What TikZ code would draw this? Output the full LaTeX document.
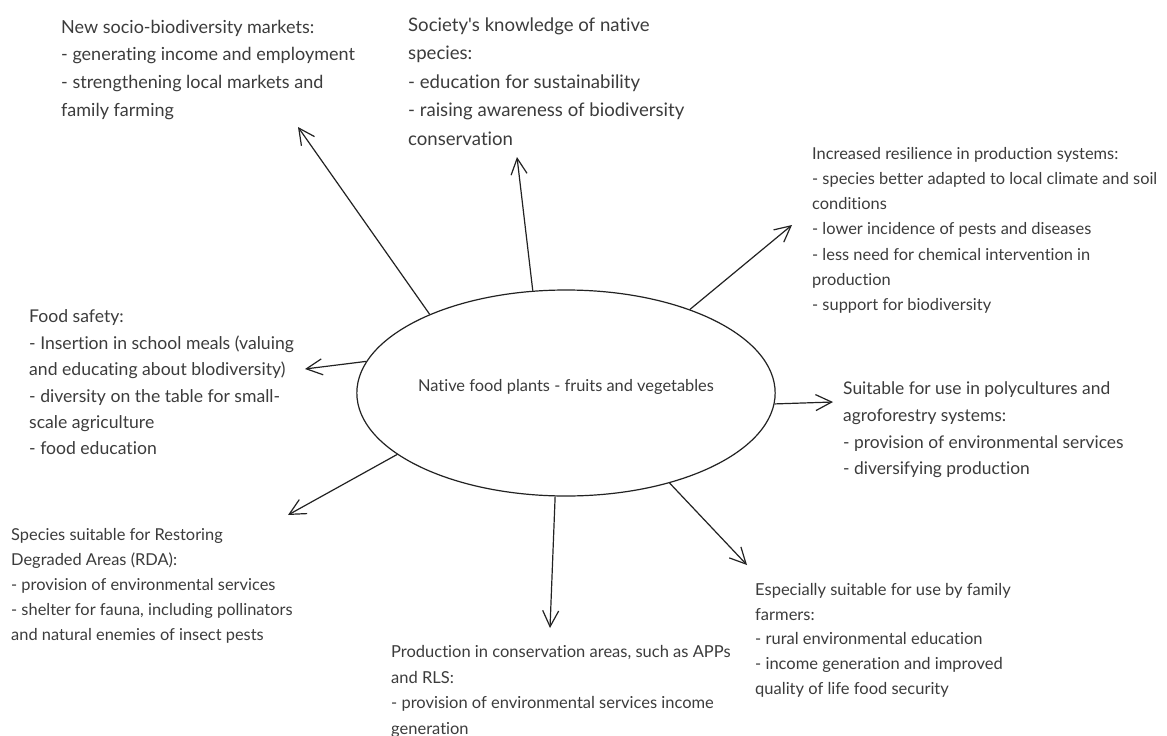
\documentclass[tikz,border=0pt]{standalone}
\usepackage{fontspec}
\setmainfont{Lato}[Ligatures={NoCommon,NoContextual}]
\usetikzlibrary{arrows.meta,shapes.geometric}
\definecolor{txtc}{HTML}{3C3C3C}
\definecolor{linec}{HTML}{222222}
\begin{document}
\begin{tikzpicture}[x=1pt,y=1pt,
  txt/.style={anchor=north west, inner sep=0pt, align=left, text=txtc},
  arr/.style={draw=linec, line width=1.2pt, -{Straight Barb[length=16pt,width=16pt,line width=1.2pt]}}]
\useasboundingbox (0,0) rectangle (1167,-736);
\fill[white] (0,0) rectangle (1167,-736);
% centre
\node[draw=linec, line width=1.2pt, ellipse, minimum width=336pt, minimum height=206pt, inner sep=0pt, text=txtc, font=\fontsize{16.4}{19}\selectfont] (c) at (566,-393) {\smash{\raisebox{2pt}{Native food plants - fruits and vegetables}}};
% text blocks
\node[txt, font=\fontsize{18}{27.7}\selectfont] (b1) at (61,-19.6) {New socio-biodiversity markets:\\- generating income and employment\\- strengthening local markets and\\family farming};
\node[txt, font=\fontsize{18.6}{28.5}\selectfont] (b2) at (408,-17.4) {Society\textquotesingle s knowledge of native\\species:\\- education for sustainability\\- raising awareness of biodiversity\\conservation};
\node[txt, font=\fontsize{16.4}{25.2}\selectfont] (b3) at (812,-147) {Increased resilience in production systems:\\- species better adapted to local climate and soil\\conditions\\- lower incidence of pests and diseases\\- less need for chemical intervention in\\production\\- support for biodiversity};
\node[txt, font=\fontsize{17.6}{26.4}\selectfont] (b4) at (29,-309.7) {Food safety:\\- Insertion in school meals (valuing\\and educating about blodiversity)\\- diversity on the table for small-\\scale agriculture\\- food education};
\node[txt, font=\fontsize{17.4}{26.7}\selectfont] (b5) at (843,-381.8) {Suitable for use in polycultures and\\agroforestry systems:\\- provision of environmental services\\- diversifying production};
\node[txt, font=\fontsize{16.4}{25}\selectfont] (b6) at (11,-528) {Species suitable for Restoring\\Degraded Areas (RDA):\\- provision of environmental services\\- shelter for fauna, including pollinators\\and natural enemies of insect pests};
\node[txt, font=\fontsize{16.5}{25.7}\selectfont] (b7) at (391,-645) {Production in conservation areas, such as APPs\\and RLS:\\- provision of environmental services income\\generation};
\node[txt, font=\fontsize{16.5}{24.75}\selectfont] (b8) at (755,-583) {Especially suitable for use by family\\farmers:\\- rural environmental education\\- income generation and improved\\quality of life food security};
% arrow tips
\coordinate (t1) at (298,-127);
\coordinate (t2) at (517,-157);
\coordinate (t3) at (792,-225);
\coordinate (t4) at (305,-369);
\coordinate (t5) at (833,-402);
\coordinate (t6) at (288,-515);
\coordinate (t7) at (550,-628);
\coordinate (t8) at (747,-565);
\draw[arr] (c.150) -- (t1);
\draw[arr] (c.108.4) -- (t2);
\draw[arr] (c.34.4) -- (t3);
\draw[arr] (c.171.7) -- (t4);
\draw[arr] (c.-3.4) -- (t5);
\draw[arr] (c.200.3) -- (t6);
\draw[arr] (c.264) -- (t7);
\draw[arr] (c.319.3) -- (t8);
\end{tikzpicture}
\end{document}
